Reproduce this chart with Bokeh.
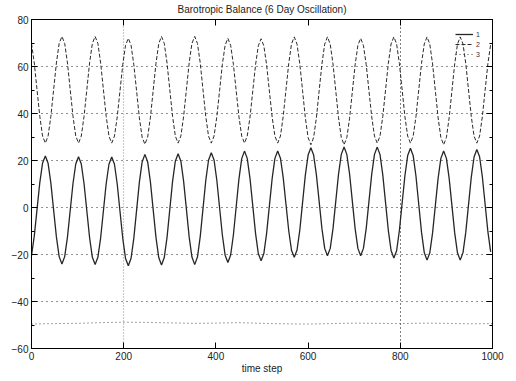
from bokeh.plotting import figure
from bokeh.models import (LinearAxis, SingleIntervalTicker, FixedTicker,
                          Range1d, Legend, LegendItem, Grid)
from bokeh.embed import file_html
from bokeh.resources import INLINE

TITLE = "Barotropic Balance (6 Day Oscillation)"
XLABEL = "time step"

t = list(range(0, 997, 6))

series1 = [
    -20.5, -12.2, -0.8, 10.6, 18.9, 21.9,
    18.8, 10.4, -1.1, -12.5, -20.9, -24.0,
    -20.9, -12.6, -1.2, 10.2, 18.5, 21.6,
    18.5, 10.1, -1.4, -12.8, -21.2, -24.3,
    -21.2, -12.9, -1.4, 10.1, 18.4, 21.5,
    18.4, 9.9, -1.7, -13.2, -21.7, -24.8,
    -21.6, -13.0, -1.1, 10.8, 19.4, 22.6,
    19.4, 10.8, -1.0, -12.7, -21.3, -24.5,
    -21.3, -12.7, -0.8, 11.1, 19.7, 22.9,
    19.7, 11.1, -0.7, -12.5, -21.1, -24.3,
    -21.1, -12.4, -0.5, 11.4, 20.1, 23.3,
    20.2, 11.6, -0.1, -11.7, -20.3, -23.4,
    -20.2, -11.6, 0.3, 12.2, 20.8, 24.0,
    20.9, 12.3, 0.7, -11.0, -19.6, -22.7,
    -19.6, -11.0, 0.7, 12.3, 20.9, 24.0,
    21.0, 12.7, 1.4, -9.9, -18.2, -21.2,
    -18.1, -9.6, 2.1, 13.8, 22.3, 25.4,
    22.3, 13.9, 2.5, -9.0, -17.4, -20.5,
    -17.4, -9.0, 2.6, 14.2, 22.6, 25.7,
    22.6, 14.2, 2.6, -9.0, -17.4, -20.5,
    -17.4, -9.0, 2.6, 14.2, 22.6, 25.7,
    22.5, 13.9, 2.1, -9.7, -18.3, -21.5,
    -18.4, -9.8, 1.9, 13.5, 22.1, 25.2,
    22.0, 13.3, 1.4, -10.5, -19.2, -22.4,
    -19.3, -10.8, 0.8, 12.4, 20.9, 24.0,
    20.9, 12.4, 0.8, -10.8, -19.3, -22.4,
    -19.2, -10.6, 1.2, 12.9, 21.5, 24.7,
    21.6, 13.0, 1.4, -10.3, -18.9,
]

series2 = [
    69.8, 61.5, 50.1, 38.8, 30.4, 27.4,
    30.4, 38.8, 50.1, 61.5, 69.8, 72.8,
    69.8, 61.5, 50.1, 38.8, 30.4, 27.4,
    30.4, 38.8, 50.1, 61.5, 69.8, 72.8,
    69.8, 61.5, 50.1, 38.8, 30.4, 27.4,
    30.4, 38.6, 49.7, 60.9, 69.0, 72.0,
    69.0, 60.7, 49.5, 38.2, 29.9, 26.9,
    30.0, 38.4, 49.9, 61.3, 69.7, 72.8,
    69.8, 61.5, 50.1, 38.8, 30.4, 27.4,
    30.4, 38.8, 50.1, 61.5, 69.8, 72.8,
    69.8, 61.5, 50.1, 38.8, 30.4, 27.4,
    30.4, 38.6, 49.7, 60.9, 69.0, 72.0,
    69.0, 60.9, 49.7, 38.6, 30.4, 27.4,
    30.4, 38.5, 49.6, 60.7, 68.8, 71.8,
    68.8, 60.7, 49.6, 38.5, 30.4, 27.4,
    30.4, 38.7, 50.0, 61.3, 69.6, 72.6,
    69.5, 61.1, 49.7, 38.2, 29.8, 26.7,
    29.8, 38.2, 49.7, 61.1, 69.5, 72.6,
    69.5, 61.1, 49.7, 38.2, 29.8, 26.7,
    29.7, 38.0, 49.4, 60.7, 69.0, 72.0,
    69.0, 60.9, 49.7, 38.6, 30.4, 27.4,
    30.4, 38.7, 50.0, 61.3, 69.6, 72.6,
    69.6, 61.3, 50.0, 38.7, 30.4, 27.4,
    30.4, 38.7, 50.0, 61.3, 69.6, 72.6,
    69.5, 61.1, 49.7, 38.2, 29.8, 26.7,
    29.8, 38.2, 49.7, 61.1, 69.5, 72.6,
    69.6, 61.3, 50.0, 38.7, 30.4, 27.4,
    30.4, 38.7, 49.9, 61.2, 69.4,
]

t3 = list(range(0, 1001, 50))
series3 = [-49.6, -49.4, -49.3, -49.0, -48.8, -48.9, -49.1, -49.3, -49.2, -49.0,
           -49.3, -49.5, -49.6, -49.4, -49.2, -49.3, -49.4, -49.2, -49.3, -49.5, -49.4]

legend_labels = ["1", "2", "3"]
x_ticks = [0, 200, 400, 600, 800, 1000]
y_ticks = [-60, -40, -20, 0, 20, 40, 60, 80]
y_grid_ticks = [-40, -20, 0, 20, 40, 60]

FONT = "Liberation Sans"

p = figure(width=516, height=381, x_range=Range1d(0, 1000), y_range=Range1d(-60, 80),
           output_backend="svg", toolbar_location=None,
           min_border_left=31, min_border_right=24, min_border_top=18, min_border_bottom=33)
p.xaxis.visible = False
p.yaxis.visible = False
p.outline_line_color = "black"
p.outline_line_width = 1
p.background_fill_color = "white"

def style_axis(ax, labels=True, ticks=None):
    ax.major_tick_in = 6
    ax.major_tick_out = 0
    ax.minor_tick_in = 3
    ax.minor_tick_out = 0
    ax.axis_line_color = "black"
    ax.major_tick_line_color = "black"
    ax.minor_tick_line_color = "black"
    ax.major_label_text_font = FONT
    ax.major_label_text_font_size = "10px"
    ax.major_label_text_color = "#222222"
    if labels:
        ax.major_label_standoff = 3
    else:
        ax.major_label_standoff = 0
        ax.major_label_overrides = {v: "" for v in ticks}

xb = LinearAxis(ticker=SingleIntervalTicker(interval=200, num_minor_ticks=0))
yl = LinearAxis(ticker=SingleIntervalTicker(interval=20, num_minor_ticks=2))
xt = LinearAxis(ticker=SingleIntervalTicker(interval=200, num_minor_ticks=0))
yr = LinearAxis(ticker=SingleIntervalTicker(interval=20, num_minor_ticks=2))
style_axis(xb)
style_axis(yl)
style_axis(xt, False, x_ticks)
style_axis(yr, False, y_ticks)

xb.axis_label = XLABEL
xb.axis_label_standoff = 0
xb.axis_label_text_font = FONT
xb.axis_label_text_font_size = "10px"
xb.axis_label_text_font_style = "normal"
xb.axis_label_text_color = "#222222"

xt.axis_label = TITLE
xt.axis_label_standoff = 5
xt.axis_label_text_font = FONT
xt.axis_label_text_font_size = "10px"
xt.axis_label_text_font_style = "normal"
xt.axis_label_text_color = "#222222"

p.add_layout(xb, "below")
p.add_layout(yl, "left")
p.add_layout(xt, "above")
p.add_layout(yr, "right")

p.xgrid.visible = False
p.ygrid.visible = False
gy = Grid(dimension=1, ticker=FixedTicker(ticks=y_grid_ticks),
          grid_line_color="black", grid_line_dash="1 4", grid_line_width=1, grid_line_alpha=0.85)
gx1 = Grid(dimension=0, ticker=FixedTicker(ticks=[200]),
           grid_line_color="#999999", grid_line_dash="1 2", grid_line_width=1.2)
gx2 = Grid(dimension=0, ticker=FixedTicker(ticks=[800]),
           grid_line_color="black", grid_line_dash="1 3", grid_line_width=1)
p.add_layout(gy)
p.add_layout(gx1)
p.add_layout(gx2)

r1 = p.line(t, series1, line_color="#262626", line_width=1.3)
r2 = p.line(t, series2, line_color="#2a2a2a", line_width=1.0, line_dash="4 2")
r3 = p.line(t3, series3, line_color="#444444", line_width=1.0, line_dash="1 3")

legend = Legend(items=[LegendItem(label=legend_labels[0], renderers=[r1]),
                       LegendItem(label=legend_labels[1], renderers=[r2]),
                       LegendItem(label=legend_labels[2], renderers=[r3])],
                location=(424, 290), background_fill_alpha=0, border_line_color=None,
                label_text_font=FONT, label_text_font_size="7px",
                label_text_color="#333333",
                glyph_width=18, glyph_height=8, label_height=8, spacing=2,
                padding=2, margin=0, label_standoff=3)
p.add_layout(legend, "center")

open("out.html", "w").write(file_html(p, INLINE))
